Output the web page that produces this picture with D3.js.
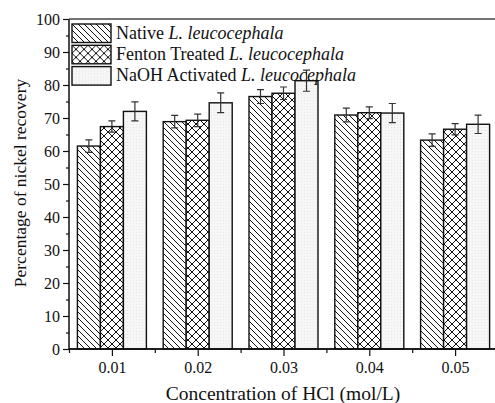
<!DOCTYPE html>
<html>
<head>
<meta charset="utf-8">
<script src="https://cdn.jsdelivr.net/npm/d3@7"></script>
<style>
	body { margin: 0; background: #fff; }
	svg text { font-family: "Liberation Serif", "Times New Roman", serif; fill: #111; }
</style>
</head>
<body>
<svg id="chart" width="495" height="403"></svg>
<script>
// concentrations of HCl (mol/L)
const concentrations = [0.01, 0.02, 0.03, 0.04, 0.05];
const seriesNames = ['Native', 'Fenton Treated', 'NaOH Activated'];
const native = [61.5, 68.9, 76.5, 70.9, 63.3];
const nativeErr = [1.9, 1.9, 2.1, 2.1, 1.9];
const fenton = [67.4, 69.3, 77.5, 71.6, 66.6];
const fentonErr = [1.7, 1.9, 1.9, 1.8, 1.7];
const naoh = [72.0, 74.6, 81.3, 71.5, 68.1];
const naohErr = [2.9, 3.0, 3.2, 2.9, 2.8];
const yTicks = [0, 10, 20, 30, 40, 50, 60, 70, 80, 90, 100];

const svg = d3.select('#chart');
const margin = { left: 69, top: 19, bottom: 349, right: 498 };

const x = d3.scaleLinear([0.005, 0.055], [margin.left, margin.right]);
const y = d3.scaleLinear([0, 100], [margin.bottom, margin.top]);
const barW = 23;

// patterns
const defs = svg.append('defs');
const diag = defs.append('pattern')
	.attr('id', 'diag')
	.attr('patternUnits', 'userSpaceOnUse')
	.attr('width', 6).attr('height', 6);
diag.append('rect').attr('width', 6).attr('height', 6).attr('fill', '#fff');
diag.append('path')
	.attr('d', 'M-1,-1 L7,7 M-4,2 L2,8 M4,-2 L10,4')
	.attr('stroke', '#111').attr('stroke-width', 1);

const cross = defs.append('pattern')
	.attr('id', 'cross')
	.attr('patternUnits', 'userSpaceOnUse')
	.attr('width', 8).attr('height', 8);
cross.append('rect').attr('width', 8).attr('height', 8).attr('fill', '#fff');
cross.append('path')
	.attr('d', 'M0,0 L8,8 M8,0 L0,8')
	.attr('stroke', '#111').attr('stroke-width', 1);

const dots = defs.append('pattern')
	.attr('id', 'dots')
	.attr('patternUnits', 'userSpaceOnUse')
	.attr('width', 3).attr('height', 3);
dots.append('rect').attr('width', 3).attr('height', 3).attr('fill', '#f6f6f6');
dots.append('rect').attr('x', 1).attr('y', 1).attr('width', 1).attr('height', 1).attr('fill', '#e6e6e6');

const fills = ['url(#diag)', 'url(#cross)', 'url(#dots)'];
const offsets = [-1.5, -0.5, 0.5];

const series = [
	{ values: native, errs: nativeErr },
	{ values: fenton, errs: fentonErr },
	{ values: naoh, errs: naohErr },
];

const bars = svg.append('g').attr('class', 'bars');
series.forEach((s, si) => {
	const g = bars.append('g');
	g.selectAll('rect')
		.data(concentrations)
		.join('rect')
		.attr('x', d => x(d) + offsets[si] * barW)
		.attr('y', (d, i) => y(s.values[i]))
		.attr('width', barW)
		.attr('height', (d, i) => y(0) - y(s.values[i]))
		.attr('fill', fills[si])
		.attr('stroke', '#111')
		.attr('stroke-width', 1.4);
});

// error bars
series.forEach((s, si) => {
	const g = bars.append('g').attr('stroke', '#333').attr('stroke-width', 1.2).attr('fill', 'none');
	concentrations.forEach((c, i) => {
		const cx = x(c) + (offsets[si] + 0.5) * barW;
		const y1 = y(s.values[i] + s.errs[i]);
		const y2 = y(s.values[i] - s.errs[i]);
		g.append('path').attr('d', `M${cx},${y1}V${y2}M${cx - 3.5},${y1}H${cx + 3.5}M${cx - 3.5},${y2}H${cx + 3.5}`);
	});
});

// axes
const yAxis = svg.append('g')
	.attr('transform', `translate(${margin.left},0)`)
	.call(d3.axisLeft(y).tickValues(yTicks).tickSize(6).tickPadding(3));
const yMinor = svg.append('g')
	.attr('transform', `translate(${margin.left},0)`)
	.call(d3.axisLeft(y).tickValues(d3.range(5, 100, 10)).tickSize(3).tickFormat(''));

const xAxis = svg.append('g')
	.attr('transform', `translate(0,${margin.bottom})`)
	.call(d3.axisBottom(x).tickValues(concentrations).tickSize(7).tickPadding(6).tickFormat(d3.format('.2f')));
const xMinor = svg.append('g')
	.attr('transform', `translate(0,${margin.bottom})`)
	.call(d3.axisBottom(x).tickValues([0.005, 0.015, 0.025, 0.035, 0.045]).tickSize(4).tickFormat(''));

[yAxis, yMinor, xAxis, xMinor].forEach(a => {
	a.select('.domain').attr('stroke', '#111').attr('stroke-width', 1.5);
	a.selectAll('.tick line').attr('stroke', '#111').attr('stroke-width', 1.2);
	a.selectAll('.tick text').style('font-size', '16px').attr('fill', '#111');
});
xAxis.select('.domain').attr('d', `M${margin.left},0H${margin.right}`);
xMinor.select('.domain').attr('d', `M${margin.left},0H${margin.right}`);
yAxis.select('.domain').attr('d', `M0,${margin.bottom}V${margin.top}`);
yMinor.select('.domain').remove();

// top frame line
svg.append('line')
	.attr('x1', margin.left).attr('x2', margin.right)
	.attr('y1', margin.top).attr('y2', margin.top)
	.attr('stroke', '#444').attr('stroke-width', 1.5);

// axis titles
svg.append('text')
	.attr('x', 283).attr('y', 400)
	.attr('text-anchor', 'middle')
	.style('font-size', '19.5px')
	.text('Concentration of HCl (mol/L)');
svg.append('text')
	.attr('transform', 'translate(26,183) rotate(-90)')
	.attr('text-anchor', 'middle')
	.style('font-size', '17.5px')
	.text('Percentage of nickel recovery');

// legend
const legend = svg.append('g').attr('transform', 'translate(72,24)');
seriesNames.forEach((name, i) => {
	const row = legend.append('g').attr('transform', `translate(0,${i * 21.3})`);
	row.append('rect')
		.attr('width', 39).attr('height', 18.5)
		.attr('fill', fills[i])
		.attr('stroke', '#111').attr('stroke-width', 1.4);
	const t = row.append('text')
		.attr('x', 44).attr('y', 14.5)
		.style('font-size', '18px');
	t.append('tspan').text(name + ' ');
	t.append('tspan').style('font-style', 'italic').text('L. leucocephala');
});
</script>
</body>
</html>
